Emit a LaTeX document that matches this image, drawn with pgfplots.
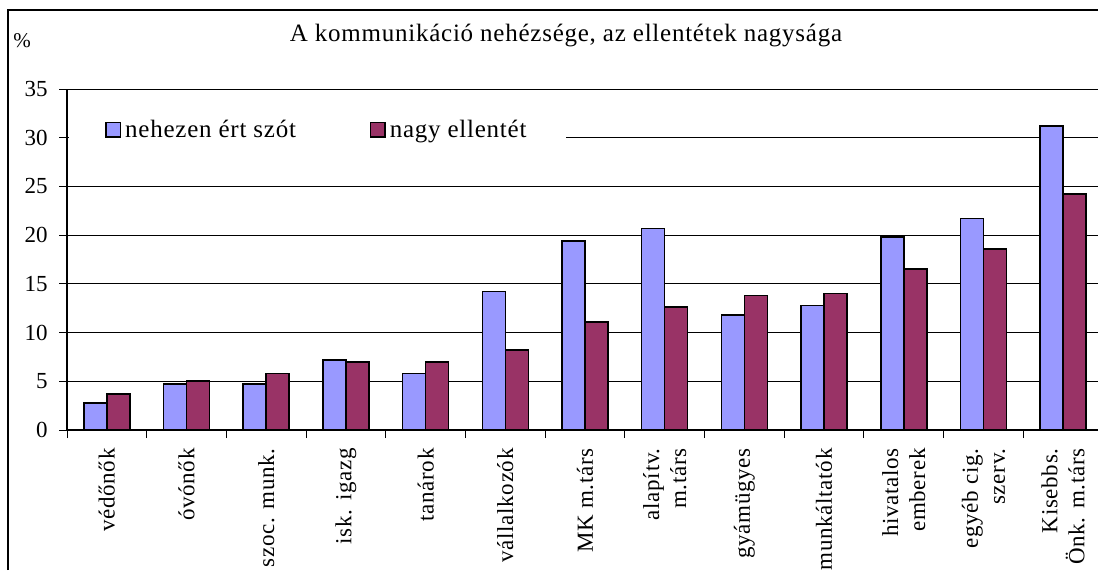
\documentclass[border=0pt]{standalone}
\usepackage{fontspec}
\setmainfont{Liberation Serif}
\newfontfamily\labelfont{Liberation Serif}[LetterSpace=3]
\newfontfamily\titlefont{Liberation Serif}[LetterSpace=3]
\usepackage{pgfplots}
\pgfplotsset{compat=1.18}
\definecolor{barblue}{RGB}{153,153,255}
\definecolor{barred}{RGB}{153,51,102}
\begin{document}
\begin{tikzpicture}
\useasboundingbox (0,0) rectangle (549pt,285pt);
\clip (0,0) rectangle (549pt,285pt);
% outer chart frame (left and top edges visible)
\draw[line width=0.8pt] (4pt,0) -- (4pt,280pt) -- (549pt,280pt);
\node[font=\titlefont\fontsize{12.5pt}{14pt}\selectfont, anchor=base] at (283pt,264.5pt) {A kommunikáció nehézsége, az ellentétek nagysága};
\node[font=\fontsize{10.5pt}{12pt}\selectfont, anchor=base west, inner sep=0pt] at (6.5pt,261.5pt) {\%};
\begin{axis}[
    at={(33.5pt,70pt)}, anchor=south west,
    scale only axis, width=518pt, height=170.5pt,
    xmin=-0.5, xmax=12.5, ymin=0, ymax=35,
    ybar=0pt, bar width=11.5pt,
    axis x line=bottom, axis y line=left,
    axis line style={-, black, line width=0.6pt},
    tick align=outside, major tick length=4pt,
    tick style={black, line width=0.5pt},
    ytick={0,5,...,35},
    ymajorgrids, grid style={black, line width=0.5pt},
    xtick={-0.5,0.5,...,12.5}, xticklabels={},
    extra x ticks={0,...,12},
    extra x tick style={major tick length=0pt, grid=none},
    extra x tick labels={védőnők, óvónők, szoc. munk., isk. igazg, tanárok,
        vállalkozók, MK m.társ, {alapítv.\\m.társ}, gyámügyes, munkáltatók,
        {hivatalos\\emberek}, {egyéb cig.\\szerv.}, {Kisebbs.\\Önk. m.társ}},
    xticklabel style={rotate=90, anchor=east, align=right, inner sep=0pt,
        font=\labelfont\fontsize{11.5pt}{13.5pt}\selectfont},
    xticklabel shift=9pt,
    yticklabel style={inner sep=0pt, font=\fontsize{11.5pt}{12pt}\selectfont},
    yticklabel shift=5.5pt,
    /pgf/number format/assume math mode=true,
    legend columns=2,
    legend style={at={(rel axis cs:0,0.88)}, xshift=1pt, anchor=west, fill=white, draw=none,
        inner xsep=18pt, inner ysep=6pt, font=\titlefont\fontsize{12.5pt}{14pt}\selectfont,
        /tikz/every even column/.append style={column sep=35pt}},
    legend image code/.code={\draw[#1, line width=0.7pt] (0pt,-3.6pt) rectangle (7.2pt,3.6pt);},
]
\addplot[fill=barblue, draw=black, line width=0.8pt] coordinates {
    (0,2.8) (1,4.7) (2,4.7) (3,7.2) (4,5.8) (5,14.2) (6,19.4)
    (7,20.7) (8,11.8) (9,12.8) (10,19.8) (11,21.7) (12,31.2)
};
\addplot[fill=barred, draw=black, line width=0.8pt] coordinates {
    (0,3.7) (1,5.0) (2,5.8) (3,7.0) (4,7.0) (5,8.2) (6,11.1)
    (7,12.6) (8,13.8) (9,14.0) (10,16.5) (11,18.6) (12,24.2)
};
\legend{nehezen ért szót, nagy ellentét}
\end{axis}
\end{tikzpicture}
\end{document}
